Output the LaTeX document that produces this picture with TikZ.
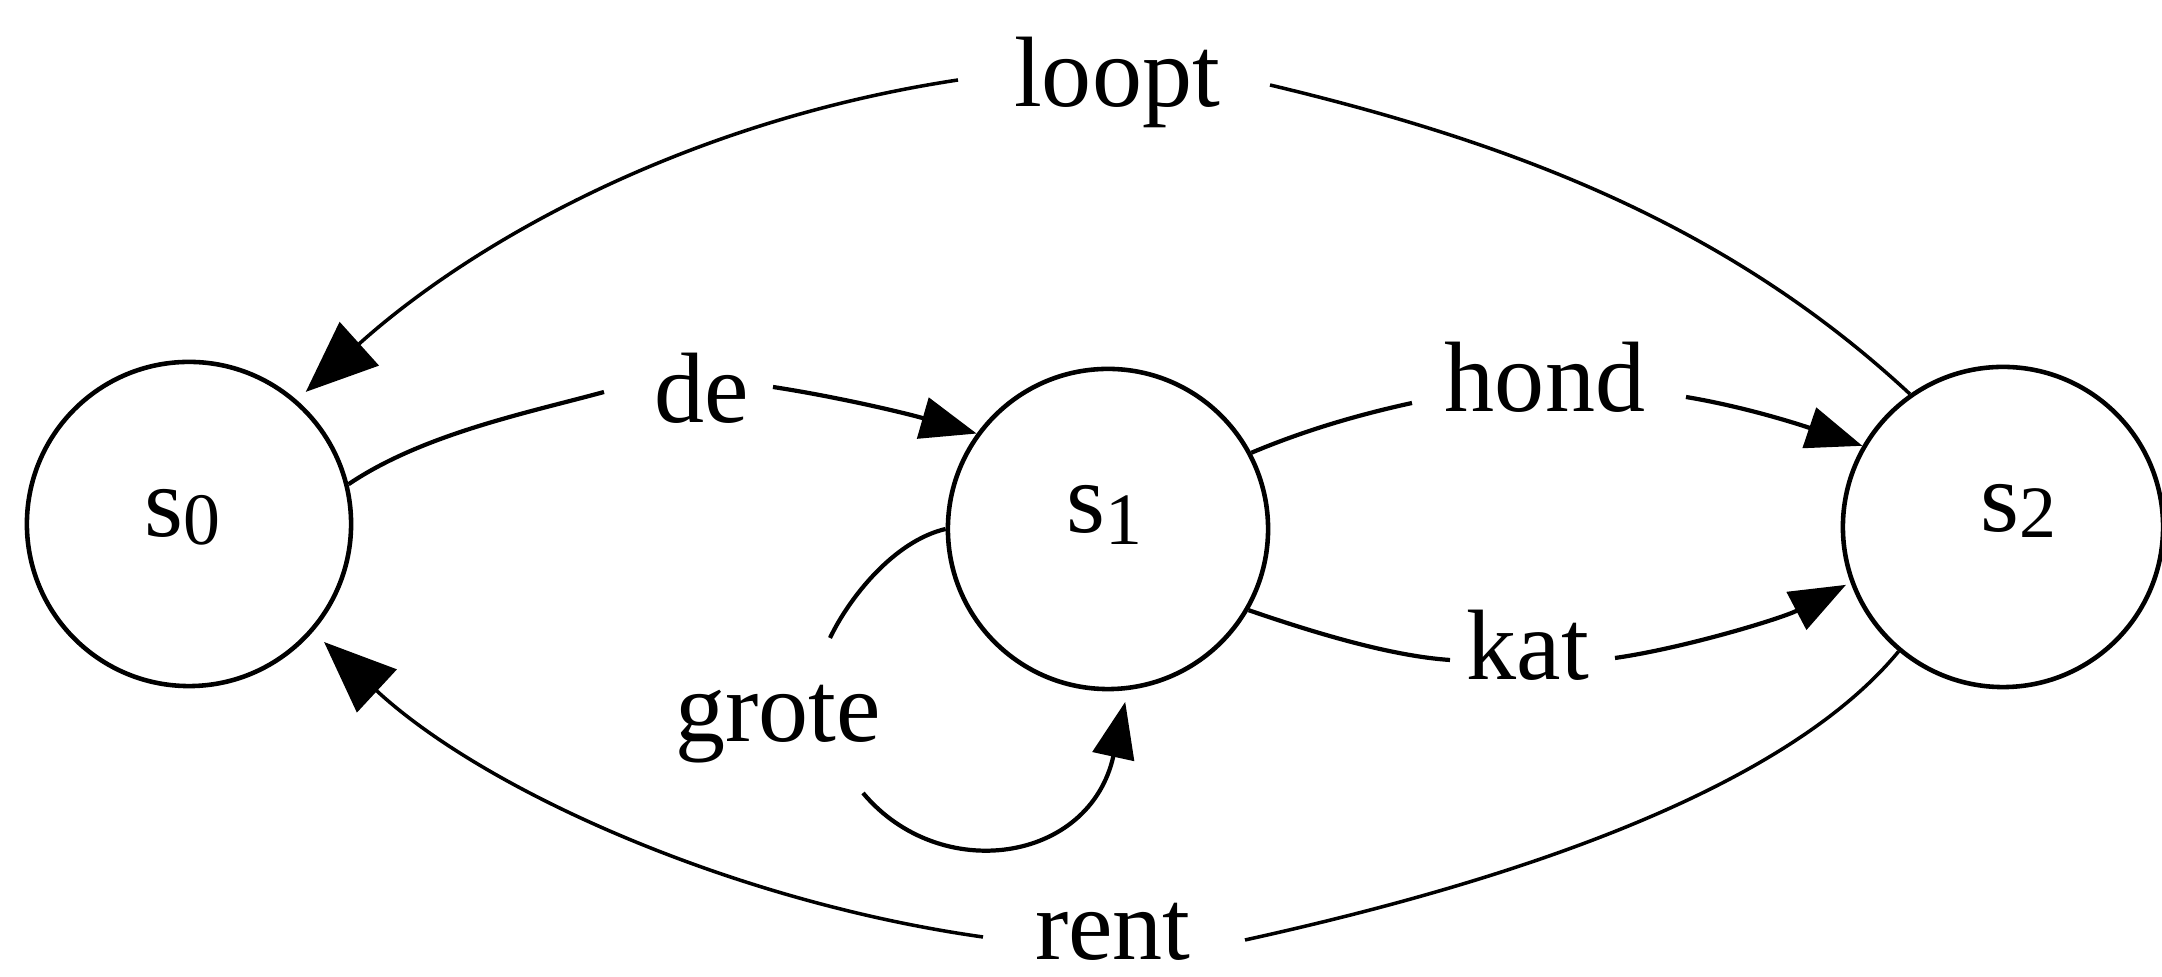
\documentclass[tikz,border=0pt]{standalone}
\usepackage{fontspec}
\setmainfont{Liberation Serif}
\usetikzlibrary{arrows.meta}
\newcommand\mydig[2]{\raisebox{-#2}{\fontsize{21}{21}\selectfont #1}}
\begin{document}
\begin{tikzpicture}[x=0.01cm,y=-0.01cm,
  state/.style={circle,draw,line width=1.3pt,inner sep=0pt},
  lbl/.style={inner sep=0pt,anchor=base,font=\fontsize{28.45}{30}\selectfont},
  edge/.style={line width=1.2pt},
  outeredge/.style={line width=1pt},
  tipS/.style={-{Triangle[length=0.56cm,width=0.42cm]}},
  tipB/.style={-{Triangle[length=0.72cm,width=0.58cm]}}]
\useasboundingbox (0,0) rectangle (2162,977);
% states
\node[state,minimum size=3.24cm] (s0) at (189,524) {};
\node[state,minimum size=3.2cm] (s1) at (1108,529) {};
\node[state,minimum size=3.2cm] (s2) at (2003,527) {};
\node[lbl] (s0t) at (182,537) {s\mydig{0}{0.08cm}};
\node[lbl] (s1t) at (1104,533) {s\mydig{1}{0.12cm}};
\node[lbl] (s2t) at (2018,532) {s\mydig{2}{0.06cm}};
% labels
\node[lbl] (de) at (702,423) {de};
\node[lbl] (loopt) at (1117,107) {loopt};
\node[lbl] (hond) at (1545,412) {hond};
\node[lbl] (kat) at (1528,680) {kat};
\node[lbl] (grote) at (778,742) {grote};
\node[lbl] (rent) at (1113,960) {rent};
% label gap ends
\coordinate (deA) at (604,392); \coordinate (deB) at (773,387);
\coordinate (loA) at (958,80); \coordinate (loB) at (1270,85);
\coordinate (hoA) at (1412,403); \coordinate (hoB) at (1686,397);
\coordinate (kaA) at (1450,660); \coordinate (kaB) at (1615,658);
\coordinate (grA) at (830,638); \coordinate (grB) at (863,793);
\coordinate (reA) at (983,937); \coordinate (reB) at (1245,940);
% de
\draw[edge] (s0.14) .. controls (423,434) and (527,413) .. (deA);
\draw[edge,tipS] (deB) .. controls (838,397) and (905,413) .. (s1.144);
% loopt
\draw[outeredge] (s2.125) .. controls (1727,224) and (1513,143) .. (loB);
\draw[outeredge,tipB,shorten >=0.12cm] (loA) .. controls (681,122) and (469,245) .. (s0.49);
% hond
\draw[edge] (s1.28) .. controls (1303,431) and (1357,415) .. (hoA);
\draw[edge,tipS] (hoB) .. controls (1746,407) and (1801,425) .. (s2.150);
% kat
\draw[edge] (s1.-30) .. controls (1312,632) and (1390,656) .. (kaA);
\draw[edge,tipS,shorten >=0.05cm] (kaB) .. controls (1685,648) and (1783,618) .. (s2.200);
% grote
\draw[edge] (s1.180) .. controls (894,541) and (849,598) .. (grA);
\draw[edge,tipS,shorten >=0.12cm] (grB) .. controls (940,885) and (1090,863) .. (s1.-83);
% rent
\draw[outeredge] (s2.-130) .. controls (1772,805) and (1458,893) .. (reB);
\draw[outeredge,tipB,shorten >=0.15cm] (reA) .. controls (735,902) and (486,792) .. (s0.-41);
\end{tikzpicture}
\end{document}
